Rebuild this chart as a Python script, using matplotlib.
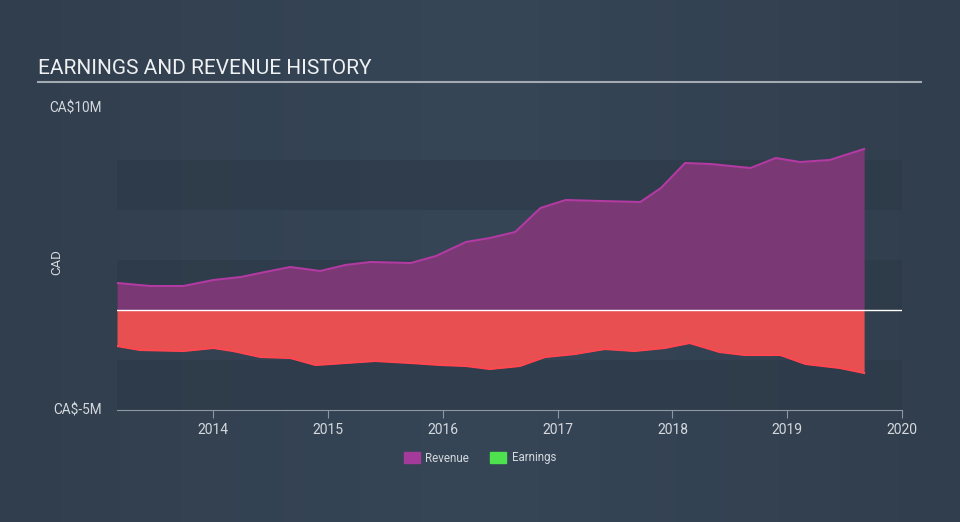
import numpy as np
import matplotlib.pyplot as plt
from matplotlib.patches import Patch

plt.rcParams['font.family'] = ['Roboto', 'DejaVu Sans']

# revenue, CA$ millions, at decimal-year positions
rev_x = [2013.16, 2013.45, 2013.74, 2014.0, 2014.24, 2014.45, 2014.67, 2014.93,
         2015.15, 2015.37, 2015.72, 2015.94, 2016.2, 2016.41, 2016.63, 2016.85,
         2017.07, 2017.37, 2017.72, 2017.9, 2018.11, 2018.33, 2018.68, 2018.9,
         2019.11, 2019.37, 2019.67]
rev_y = [1.35, 1.2, 1.2, 1.5, 1.65, 1.9, 2.15, 1.95,
         2.25, 2.4, 2.35, 2.7, 3.4, 3.6, 3.9, 5.1,
         5.5, 5.45, 5.4, 6.1, 7.35, 7.3, 7.1, 7.6,
         7.4, 7.5, 8.05]

# earnings, CA$ millions
earn_x = [2013.16, 2013.36, 2013.74, 2014.0, 2014.17, 2014.41, 2014.67, 2014.89,
          2015.15, 2015.41, 2015.72, 2015.98, 2016.2, 2016.41, 2016.67, 2016.89,
          2017.15, 2017.41, 2017.67, 2017.93, 2018.15, 2018.41, 2018.63, 2018.94,
          2019.16, 2019.46, 2019.67]
earn_y = [-1.8, -2.0, -2.05, -1.9, -2.05, -2.35, -2.4, -2.75,
          -2.65, -2.55, -2.65, -2.75, -2.8, -2.95, -2.8, -2.35,
          -2.2, -1.95, -2.05, -1.9, -1.65, -2.1, -2.25, -2.25,
          -2.7, -2.9, -3.15]

years = [2014, 2015, 2016, 2017, 2018, 2019, 2020]

fig = plt.figure(figsize=(9.6, 5.22), dpi=100)

# background gradient, a bit lighter towards the middle
bg = fig.add_axes([0, 0, 1, 1])
gx = np.linspace(0, 1, 200)
gy = np.linspace(0, 1, 100)
GX, GY = np.meshgrid(gx, gy)
c0 = np.array([0x30, 0x3c, 0x4b]) / 255
c1 = np.array([0x36, 0x46, 0x57]) / 255
img = c0 + (c1 - c0) * (1 - np.abs(GX - 0.5) * 1.6).clip(0, 1)[..., None]
bg.imshow(img, aspect='auto', extent=[0, 1, 0, 1])
bg.axis('off')

ax = fig.add_axes([117 / 960, 112 / 522, 785 / 960, 300 / 522])
ax.set_facecolor('none')
ax.set_xlim(2013.16, 2020.0)
ax.set_ylim(-5, 10)

for lo in [5, 0, -5]:
    ax.axhspan(lo, lo + 2.5, color='#2c3846', alpha=0.55, lw=0, zorder=0)

ax.fill_between(rev_x, 0, rev_y, color='#7a3874', lw=0, zorder=2)
ax.plot(rev_x, rev_y, color='#b23aa2', lw=1.5, zorder=3)
ax.fill_between(earn_x, 0, earn_y, color='#e84f51', lw=0, zorder=2)
ax.plot(earn_x, earn_y, color='#ff4750', lw=1.5, zorder=3)
ax.axhline(0, color='white', lw=1, zorder=4)

for s in ['top', 'right', 'left']:
    ax.spines[s].set_visible(False)
ax.spines['bottom'].set_color('#8e98a3')
ax.set_xticks(years)
ax.set_xticklabels([str(y) for y in years])
ax.tick_params(axis='x', colors='#8e98a3', labelcolor='#d5d9de', labelsize=10, length=6, pad=3)
ax.set_yticks([])

fig.text(102 / 960, 1 - 108 / 522, 'CA$10M', color='#d5d9de', fontsize=9.8, ha='right', va='center')
fig.text(102 / 960, 1 - 410 / 522, 'CA$-5M', color='#d5d9de', fontsize=9.8, ha='right', va='center')
fig.text(57 / 960, 1 - 262 / 522, 'CAD', color='#d5d9de', fontsize=9.5, ha='center', va='center', rotation=90)

fig.text(38 / 960, 1 - 68 / 522, 'EARNINGS AND REVENUE HISTORY', color='#eef0f2', fontsize=15, ha='left', va='center')
fig.add_artist(plt.Line2D([38 / 960, 921 / 960], [1 - 82 / 522, 1 - 82 / 522], color='#a3aab2', lw=1.5))

handles = [Patch(color='#a43a9a', label='Revenue'), Patch(color='#4ee24e', label='Earnings')]
fig.legend(handles=handles, loc='center', bbox_to_anchor=(0.5, 1 - 458 / 522), ncol=2, frameon=False,
           fontsize=8.3, labelcolor='#d5d9de', handlelength=1.4, handleheight=1.0, columnspacing=1.8,
           handletextpad=0.5)

fig.savefig('out.png', dpi=100)
